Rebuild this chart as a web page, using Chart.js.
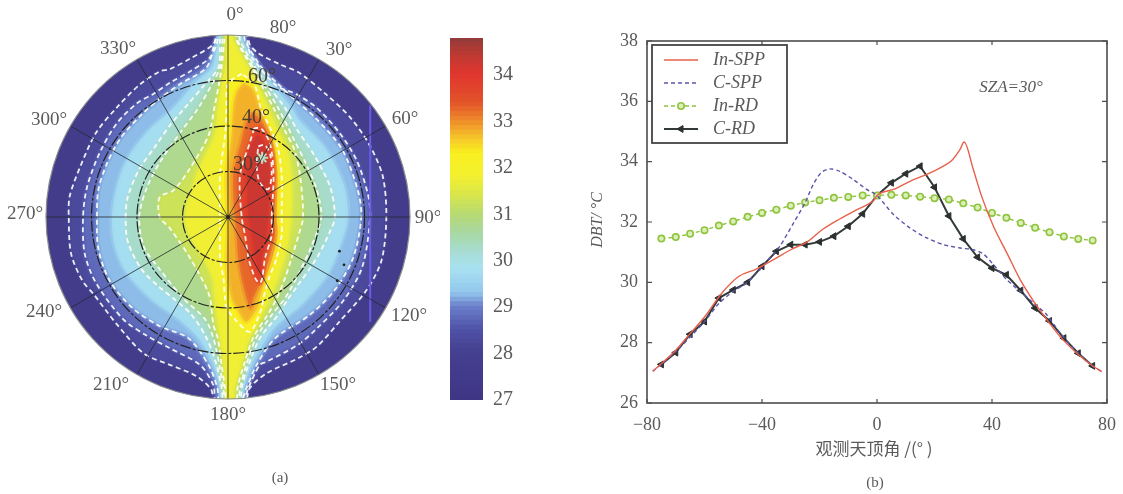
<!DOCTYPE html>
<html>
<head>
<meta charset="utf-8">
<title>DBT</title>
<script src="https://cdn.jsdelivr.net/npm/chart.js@4"></script>
<style>
html, body { margin: 0; padding: 0; background: #fff; overflow: hidden; }
canvas { position: absolute; top: 0; filter: blur(0.5px); }
#polar { left: 0; }
#bar { left: 430px; }
#lines { left: 590px; }
</style>
</head>
<body>
<canvas id="polar" width="440" height="494"></canvas>
<canvas id="bar" width="100" height="494"></canvas>
<canvas id="lines" width="533" height="494"></canvas>
<script>
// --- right panel: values ---
const angles5 = [-75, -70, -65, -60, -55, -50, -45, -40, -35, -30, -25, -20, -15, -10, -5, 0, 5, 10, 15, 20, 25, 30, 35, 40, 45, 50, 55, 60, 65, 70, 75];
const cRdValues = [27.28, 27.67, 28.28, 28.7, 29.48, 29.75, 30.0, 30.53, 31.03, 31.25, 31.25, 31.34, 31.53, 31.86, 32.27, 32.88, 33.3, 33.6, 33.85, 33.15, 32.2, 31.44, 30.83, 30.47, 30.25, 29.73, 29.15, 28.72, 28.15, 27.65, 27.23];
const inRdValues = [31.45, 31.5, 31.61, 31.73, 31.88, 32.02, 32.17, 32.3, 32.41, 32.54, 32.65, 32.72, 32.8, 32.83, 32.88, 32.88, 32.9, 32.88, 32.84, 32.79, 32.75, 32.62, 32.48, 32.3, 32.14, 31.97, 31.81, 31.66, 31.52, 31.44, 31.39];
const inSppAngles = [-78, -70, -65, -60, -54, -48, -42, -36, -30, -24, -19, -13, -7, -1, 0, 5.7, 11.5, 18.5, 23.1, 26, 28.9, 30.3, 33.5, 36.4, 40.5, 45.2, 49.8, 54.5, 59.1, 63.7, 69.5, 75.3, 78.2];
const inSppValues = [27.05, 27.75, 28.3, 28.85, 29.64, 30.2, 30.44, 30.75, 31.08, 31.36, 31.75, 32.1, 32.41, 32.74, 32.88, 33.08, 33.35, 33.63, 33.85, 34.04, 34.41, 34.65, 33.74, 32.85, 31.86, 30.97, 30.09, 29.37, 28.76, 28.2, 27.65, 27.21, 27.04];
const cSppAngles = [-78, -70, -60, -55, -50, -45, -40, -36, -33.8, -29, -25, -22.2, -19.3, -16.4, -12.9, -8.3, -3.6, 0, 5.7, 11.5, 17.3, 23.1, 28.9, 33.5, 37, 41, 45.1, 49.8, 54.5, 59.1, 63.7, 69.5, 75.3, 78.2];
const cSppValues = [27.05, 27.7, 28.7, 29.3, 29.7, 30.0, 30.5, 30.95, 31.19, 31.97, 32.64, 33.24, 33.65, 33.76, 33.68, 33.41, 33.08, 32.88, 32.25, 31.8, 31.47, 31.25, 31.14, 31.08, 30.94, 30.53, 30.09, 29.7, 29.31, 28.92, 28.32, 27.7, 27.21, 27.04];
const yTickValues = [26, 28, 30, 32, 34, 36, 38];
const xTickValues = [-80, -40, 0, 40, 80];

// --- left panel: isotherms, as [x, y] in degrees of zenith angle ---
const contour28 = [[-4.5,82],[-6.4,76],[-16,70],[-25.5,65],[-30,64],[-39,58],[-49,48],[-58,37],[-65,22],[-69.6,9],[-70,0],[-69,-16],[-64,-28],[-59,-34],[-49,-47],[-37,-60],[-25.5,-65],[-13.8,-70],[-7.3,-76],[-6,-82],[7,-82],[9.7,-75],[17,-68.7],[31,-62],[39,-57],[49,-46],[61,-32],[67.5,-19],[69.6,0],[68,18],[62,32],[53.5,44],[43,54],[31,63.6],[23,67],[13.3,72],[9.5,76],[8,82]];
const contour285 = [[-4,82],[-5,76],[-8,70],[-16.7,64],[-25.5,59],[-33,54],[-40,50],[-49,41],[-56.5,28],[-62,13],[-63.7,0],[-63,-16],[-58,-29],[-46,-45],[-36,-52],[-25.5,-57.7],[-12.3,-65],[-6.4,-74],[-5,-82],[6,-82],[9,-75],[14,-65],[17,-63.6],[31,-56],[39,-49],[50.5,-37],[59,-22],[62.5,0],[61.5,10],[56.5,25],[49,37],[39,48],[30,54],[21,58],[11,69.5],[9,74],[7,82]];
const contour29 = [[-4,82],[-5.7,77.5],[-9.4,65.8],[-21,58.5],[-30,52],[-38,45],[-47,35],[-53,24],[-57,12],[-57.6,0],[-57,-14],[-52,-28],[-42,-40],[-30,-48],[-17.4,-53.3],[-8.6,-65],[-4.7,-75],[-3.5,-82],[5,-82],[8.2,-75],[12.6,-65],[20.7,-53.3],[36,-43],[47,-32],[55,-18],[58.6,0],[57,12],[50,30],[38,44],[30,51],[22,58.5],[14.8,65.8],[7.5,77.5],[6.5,82]];
const contour295 = [[-3.5,82],[-4.5,77.5],[-7,65.8],[-15,58.5],[-24,48],[-35,38],[-44,26],[-49,13],[-51,0],[-50,-12],[-45,-24],[-34,-36],[-23,-44],[-13,-53.3],[-6.4,-65],[-3.5,-75],[-2.5,-82],[6,-82],[7,-75],[10.4,-65],[17,-53.3],[21,-48],[33,-38],[44,-25],[50,-11],[52.7,0],[51,14],[43,30],[31,43],[28,48],[19.2,58.5],[13.3,65.8],[6.5,77.5],[5.5,82]];
const contour30 = [[-2.5,82],[-3.5,77.5],[-4.2,65.8],[-10,58.5],[-19,48],[-25,41],[-32,31],[-39,21],[-44,9],[-45,0],[-44,-11],[-38,-23],[-30,-31],[-24,-35.8],[-16,-43],[-9.4,-53.3],[-5,-65],[-2.8,-75],[-1.5,-82],[5,-82],[6,-75],[9,-65],[14,-53.3],[22,-43],[26.5,-35.8],[30,-31],[39,-18],[45,-6],[47,0],[45,13],[38,27],[30,39],[25,48],[17,58.5],[11.9,65.8],[5.3,77.5],[4.5,82]];
const contour305 = [[-1.5,82],[-2.5,77],[-3.5,65.8],[-7,58.5],[-13,48],[-21,37],[-30,24],[-36,12],[-39,0],[-37,-13],[-30,-23],[-19.6,-35.8],[-10,-45],[-6.4,-53.3],[-3.8,-65],[-2,-75],[-1,-82],[4,-82],[5.3,-75],[8,-65],[12.3,-53.3],[20,-42],[25,-35.8],[31,-25],[37,-12],[41,0],[39,12],[34,24],[29,34],[22,48],[15.5,58.5],[11,65.8],[4.5,77],[3.5,82]];
const contour31 = [[-1,82],[-1.6,77.5],[-2.8,65.8],[-4,58.5],[-6,48],[-8.5,36],[-16.7,21.4],[-24,11.7],[-30,8.8],[-30,0],[-25.5,-5],[-16.7,-18],[-8.4,-34],[-6.4,-47.5],[-4.5,-53.3],[-2.8,-65],[-1.3,-75],[-0.5,-82],[3.5,-82],[4.2,-75],[7,-65],[11,-53.3],[18,-42],[21.4,-35.8],[25,-27],[28,-18],[31,-8],[33,0],[31.6,18.5],[29,30],[25,38],[20,48],[14.4,58.5],[10.4,65.8],[3.8,77.5],[3,82]];
const contour315 = [[-0.5,80],[-0.9,77.5],[-1.3,65.8],[-2.8,58.5],[-4.5,48],[-6,36],[-14,18.5],[-19,0],[-17,-8],[-11,-18],[-7,-27],[-6,-35.8],[-5.5,-40],[-3.5,-53.3],[-2,-65],[-0.9,-75],[-0.3,-80],[2.2,-80],[3,-75],[6,-65],[9.7,-53.3],[15.5,-42],[18.5,-35.8],[22,-27],[25,-18],[27,-8],[28,0],[28,18.5],[26,30],[22,38],[17.7,48],[12.9,58.5],[8.9,65.8],[2.6,77.5],[2,80]];
const contour32 = [[6,63],[0,58.5],[-0.6,48],[-1.3,36],[-3.5,18.5],[-3.5,0],[-3.5,-8],[-3.5,-18],[-2,-27],[-1.3,-35.8],[-0.6,-40],[4,-46],[9.7,-50.4],[14.8,-40],[15.5,-35.8],[18,-27],[21.4,-18],[23.6,-8],[23.6,0],[23.6,18.5],[22,30],[19,38],[14.4,48],[11.5,58.5]];
const contour325 = [[7,59],[3.8,55],[2.3,48],[1.6,36],[-0.6,18.5],[0,0],[0,-8],[-0.6,-18],[0,-27],[1.6,-35.8],[3.8,-40],[8,-46],[12.9,-40],[13.8,-35.8],[16.7,-27],[19.6,-18],[21.7,-8],[21.4,0],[21.7,18.5],[20.5,30],[18,38],[14,48],[11,56]];
const contour33 = [[10.5,46],[7.5,40],[5.5,32],[2.3,18.5],[3,0],[3.8,-8],[4.5,-18],[6,-27],[8.2,-35.8],[10,-40],[11,-35.8],[15.2,-27],[18.2,-18],[20.7,-8],[20.2,0],[20.7,18.5],[19,32],[15,42]];
const contour335 = [[11.5,39],[9.7,33],[5.3,18.5],[6,0],[7.5,-8],[9,-18],[12,-27],[14,-29],[15,-27],[16.3,-18],[19.2,-8],[19.2,0],[20,18.5],[18.5,32],[14.5,39]];
const contour34 = [[8.5,28],[8.2,18.5],[9,0],[10.4,-8],[12,-18],[14,-24],[14.8,-18],[17,-8],[17.7,0],[18.5,18.5],[17,30],[13,36]];
const contour343 = [[13.3,31],[16.1,31.7],[18.5,27.6],[19.2,18.8],[17.7,12.2],[14,15.1],[12.6,22.7]];
const isoLevels = [28, 28.5, 29, 29.5, 30, 30.5, 31, 31.5, 32, 32.5, 33, 33.5, 34];
const isoContours = [contour28, contour285, contour29, contour295, contour30, contour305, contour31, contour315, contour32, contour325, contour33, contour335, contour34];
const whiteContours = [contour28, contour285, contour29, contour30, contour305, contour31, contour32, contour335, contour343];
const sunPoint = [{ x: 15, y: 26 }];
const stripePoints = [{ x: 62.5, y: 49 }, { x: 62.5, y: -46 }];
const inkSpots = [{ x: 49, y: -15 }, { x: 51, y: -21 }, { x: 48, y: -28 }];

// --- colour bar ---
const barLevels = [27, 27.1, 27.2, 27.3, 27.4, 27.5, 27.6, 27.7, 27.8, 27.9, 28, 28.1, 28.2, 28.3, 28.4, 28.5, 28.6, 28.7, 28.8, 28.9, 29, 29.1, 29.2, 29.3, 29.4, 29.5, 29.6, 29.7, 29.8, 29.9, 30, 30.1, 30.2, 30.3, 30.4, 30.5, 30.6, 30.7, 30.8, 30.9, 31, 31.1, 31.2, 31.3, 31.4, 31.5, 31.6, 31.7, 31.8, 31.9, 32, 32.1, 32.2, 32.3, 32.4, 32.5, 32.6, 32.7, 32.8, 32.9, 33, 33.1, 33.2, 33.3, 33.4, 33.5, 33.6, 33.7, 33.8, 33.9, 34, 34.1, 34.2, 34.3, 34.4, 34.5, 34.6, 34.7];
const colorStops = [[27, '#3f3585'], [28, '#45408f'], [28.5, '#4f52a8'], [29, '#6c80cc'], [29.3, '#93c8ec'], [29.8, '#a8e0f2'], [30.2, '#a8dcd0'], [30.6, '#a8d8a0'], [31, '#b8da70'], [31.4, '#d8e64a'], [31.8, '#f4f030'], [32.3, '#f9f01f'], [32.6, '#f6c82a'], [33, '#ef8a2a'], [33.4, '#e2522a'], [34, '#e0362e'], [34.5, '#b53a34'], [34.8, '#8b3b3b']];

// --- labels ---
const angleLabels = ['0°', '80°', '30°', '60°', '90°', '120°', '150°', '180°', '210°', '240°', '270°', '300°', '330°'];
const angleLabelPos = [[235, 15], [283, 28], [339, 50], [405, 119], [428, 218], [409, 316], [338, 385], [228, 415], [111, 385], [44, 312], [25, 214], [49, 120], [118, 49]];
const ringLabels = ['30°', '40°', '60°'];
const ringLabelPos = [[247, 165], [256, 118], [262, 77]];
const spokeAngles = [0, 30, 60, 90, 120, 150, 180, 210, 240, 270, 300, 330];
const ringRadii = [20, 40, 60];

const SERIF = '"Liberation Serif", "DejaVu Serif", serif';
const TEXT_COLOR = '#5a5a5a';

function colorAt(value, alpha) {
    let i = 0;
    while (i < colorStops.length - 2 && value > colorStops[i + 1][0]) i++;
    const [v0, c0] = colorStops[i];
    const [v1, c1] = colorStops[i + 1];
    const t = Math.min(1, Math.max(0, (value - v0) / (v1 - v0)));
    const channel = pos => {
        const a = parseInt(c0.substr(pos, 2), 16);
        const b = parseInt(c1.substr(pos, 2), 16);
        return Math.round(a + (b - a) * t);
    };
    return `rgba(${channel(1)},${channel(3)},${channel(5)},${alpha === undefined ? 1 : alpha})`;
}

function toPoints(contour) {
    const pts = contour.map(p => ({ x: p[0], y: p[1] }));
    pts.push({ x: contour[0][0], y: contour[0][1] });
    return pts;
}

function label(ctx, text, x, y, font, color) {
    ctx.font = font;
    ctx.fillStyle = color || TEXT_COLOR;
    ctx.textAlign = 'center';
    ctx.textBaseline = 'middle';
    ctx.fillText(text, x, y);
}

// ---- left: polar map ----
const polarDatasets = [];
polarDatasets.push({ data: sunPoint, showLine: false, pointStyle: 'star', pointRadius: 6, pointBorderWidth: 2, pointBorderColor: '#b9e2c4' });
polarDatasets.push({ data: inkSpots, showLine: false, pointRadius: 1.4, pointBackgroundColor: '#222', pointBorderWidth: 0 });
polarDatasets.push({ data: stripePoints, showLine: true, pointRadius: 0, borderColor: '#6a5ce6', borderWidth: 2 });
whiteContours.forEach(contour => {
    polarDatasets.push({
        data: toPoints(contour), showLine: true, pointRadius: 0, tension: 0.3,
        borderColor: 'rgba(255,255,255,0.9)', borderWidth: 1.8, borderDash: [5, 3.5]
    });
});
// first dataset is painted last, so the warm levels go first
for (let i = isoLevels.length - 1; i >= 0; i--) {
    polarDatasets.push({
        data: toPoints(isoContours[i]), showLine: true, pointRadius: 0, tension: 0.3,
        borderWidth: 5, borderColor: colorAt(isoLevels[i] + 0.1, 0.45),
        fill: 'shape', backgroundColor: colorAt(isoLevels[i] + 0.25)
    });
}

const polarPlugin = {
    id: 'polarPlugin',
    beforeDatasetsDraw(chart) {
        const { ctx, scales } = chart;
        const cx = scales.x.getPixelForValue(0), cy = scales.y.getPixelForValue(0);
        const r = scales.x.getPixelForValue(80) - cx;
        ctx.save();
        ctx.beginPath();
        ctx.arc(cx, cy, r, 0, Math.PI * 2);
        ctx.fillStyle = colorAt(27.6);
        ctx.fill();
        ctx.clip();
    },
    afterDatasetsDraw(chart) {
        const { ctx, scales } = chart;
        ctx.restore();
        const cx = scales.x.getPixelForValue(0), cy = scales.y.getPixelForValue(0);
        const r = scales.x.getPixelForValue(80) - cx;
        ctx.save();
        ctx.strokeStyle = 'rgba(35,40,45,0.8)';
        ctx.lineWidth = 1;
        spokeAngles.forEach(a => {
            const rad = a * Math.PI / 180;
            ctx.beginPath();
            ctx.moveTo(cx, cy);
            ctx.lineTo(cx + r * Math.sin(rad), cy - r * Math.cos(rad));
            ctx.stroke();
        });
        ctx.strokeStyle = '#222';
        ctx.lineWidth = 1.2;
        ctx.setLineDash([11, 2, 3, 2]);
        ringRadii.forEach(v => {
            ctx.beginPath();
            ctx.arc(cx, cy, scales.x.getPixelForValue(v) - cx, 0, Math.PI * 2);
            ctx.stroke();
        });
        ctx.setLineDash([]);
        ctx.strokeStyle = '#8a8f8a';
        ctx.lineWidth = 1.2;
        ctx.beginPath();
        ctx.arc(cx, cy, r, 0, Math.PI * 2);
        ctx.stroke();
        ctx.fillStyle = '#222';
        ctx.beginPath();
        ctx.arc(cx, cy, 2, 0, Math.PI * 2);
        ctx.fill();
        angleLabels.forEach((t, i) => label(ctx, t, angleLabelPos[i][0], angleLabelPos[i][1], `19px ${SERIF}`));
        ringLabels.forEach((t, i) => label(ctx, t, ringLabelPos[i][0], ringLabelPos[i][1], `20px ${SERIF}`, '#4a3f30'));
        label(ctx, '(a)', 280, 478, `15px ${SERIF}`);
        ctx.restore();
    }
};

new Chart(document.getElementById('polar').getContext('2d'), {
    type: 'scatter',
    data: { datasets: polarDatasets },
    options: {
        responsive: false,
        animation: false,
        layout: { padding: { left: 46, right: 30, top: 35, bottom: 95 } },
        scales: {
            x: { display: false, min: -80, max: 80 },
            y: { display: false, min: -80, max: 80 }
        },
        plugins: { legend: { display: false }, tooltip: { enabled: false } }
    },
    plugins: [polarPlugin]
});

// ---- middle: colour bar ----
new Chart(document.getElementById('bar').getContext('2d'), {
    type: 'bar',
    data: {
        labels: ['DBT'],
        datasets: barLevels.map(v => ({
            data: [[v, v + 0.12]],
            backgroundColor: colorAt(v + 0.05),
            grouped: false,
            barPercentage: 1,
            categoryPercentage: 1
        }))
    },
    options: {
        responsive: false,
        animation: false,
        layout: { padding: { left: 20, right: 0, top: 38, bottom: 94 } },
        scales: {
            x: { display: false },
            y: {
                position: 'right',
                min: 27,
                max: 34.8,
                afterBuildTicks: axis => { axis.ticks = [27, 28, 29, 30, 31, 32, 33, 34].map(v => ({ value: v })); },
                afterFit: axis => { axis.width = 47; },
                grid: { display: false },
                border: { display: false },
                ticks: { color: TEXT_COLOR, padding: 2, font: { family: SERIF, size: 20 } }
            }
        },
        plugins: { legend: { display: false }, tooltip: { enabled: false } }
    }
});

// ---- right: profiles ----
const linesPlugin = {
    id: 'linesPlugin',
    afterDraw(chart) {
        const { ctx, chartArea: a, scales } = chart;
        ctx.save();
        ctx.strokeStyle = '#4d4d4d';
        ctx.lineWidth = 1.6;
        ctx.strokeRect(a.left, a.top, a.right - a.left, a.bottom - a.top);
        // ticks point inwards
        ctx.lineWidth = 1.2;
        xTickValues.forEach(v => {
            const x = scales.x.getPixelForValue(v);
            ctx.beginPath();
            ctx.moveTo(x, a.bottom); ctx.lineTo(x, a.bottom - 4);
            ctx.moveTo(x, a.top); ctx.lineTo(x, a.top + 4);
            ctx.stroke();
        });
        yTickValues.forEach(v => {
            const y = scales.y.getPixelForValue(v);
            ctx.beginPath();
            ctx.moveTo(a.left, y); ctx.lineTo(a.left + 5, y);
            ctx.moveTo(a.right, y); ctx.lineTo(a.right - 5, y);
            ctx.stroke();
        });

        // legend box
        const boxX = 62, boxY = 45, boxW = 135, boxH = 98;
        ctx.fillStyle = '#fff';
        ctx.fillRect(boxX, boxY, boxW, boxH);
        ctx.strokeStyle = '#444';
        ctx.lineWidth = 1.8;
        ctx.strokeRect(boxX, boxY, boxW, boxH);
        chart.data.datasets.forEach((ds, i) => {
            const y = boxY + 15 + i * 23;
            ctx.save();
            ctx.strokeStyle = ds.borderColor;
            ctx.lineWidth = ds.borderWidth;
            ctx.setLineDash(ds.borderDash || []);
            ctx.beginPath();
            ctx.moveTo(boxX + 12, y);
            ctx.lineTo(boxX + 46, y);
            ctx.stroke();
            ctx.setLineDash([]);
            if (ds.pointRadius) {
                ctx.fillStyle = ds.pointBackgroundColor;
                ctx.strokeStyle = ds.pointBorderColor;
                ctx.lineWidth = ds.pointBorderWidth;
                Chart.helpers.drawPoint(ctx, { pointStyle: ds.pointStyle, radius: ds.pointRadius, rotation: ds.pointRotation || 0, borderWidth: ds.pointBorderWidth }, boxX + 29, y);
            }
            ctx.restore();
            ctx.font = `italic 18px ${SERIF}`;
            ctx.fillStyle = TEXT_COLOR;
            ctx.textAlign = 'left';
            ctx.textBaseline = 'middle';
            ctx.fillText(ds.label, boxX + 61, y);
        });

        label(ctx, 'SZA=30°', 421, 88, `italic 17px ${SERIF}`);
        ctx.save();
        ctx.translate(8, 220);
        ctx.rotate(-Math.PI / 2);
        label(ctx, 'DBT/ °C', 0, 0, `italic 16px ${SERIF}`);
        ctx.restore();
        label(ctx, '观测天顶角 /(° )', 284, 449, '17px "Noto Sans CJK SC"');
        label(ctx, '(b)', 285, 483, `15px ${SERIF}`);
        ctx.restore();
    }
};

function pairs(xs, ys) {
    return xs.map((x, i) => ({ x: x, y: ys[i] }));
}

new Chart(document.getElementById('lines').getContext('2d'), {
    type: 'scatter',
    data: {
        datasets: [
            { label: 'In-SPP', data: pairs(inSppAngles, inSppValues), showLine: true, borderColor: '#e8604a', borderWidth: 1.4, pointRadius: 0, cubicInterpolationMode: 'monotone' },
            { label: 'C-SPP', data: pairs(cSppAngles, cSppValues), showLine: true, borderColor: '#5a55a8', borderWidth: 1.4, borderDash: [4, 3], pointRadius: 0, tension: 0.25 },
            { label: 'In-RD', data: pairs(angles5, inRdValues), showLine: true, borderColor: '#8fc43f', borderWidth: 1.4, borderDash: [4, 3], pointStyle: 'circle', pointRadius: 3.2, pointBackgroundColor: '#dcefb8', pointBorderColor: '#8fc43f', pointBorderWidth: 1.6 },
            { label: 'C-RD', data: pairs(angles5, cRdValues), showLine: true, borderColor: '#333a3a', borderWidth: 2, pointStyle: 'triangle', pointRotation: -90, pointRadius: 4, pointBackgroundColor: '#2c3030', pointBorderColor: '#2c3030', pointBorderWidth: 1 }
        ]
    },
    options: {
        responsive: false,
        animation: false,
        layout: { padding: { left: 27, right: 16, top: 41, bottom: 51 } },
        scales: {
            x: {
                type: 'linear', min: -80, max: 80,
                afterBuildTicks: axis => { axis.ticks = xTickValues.map(v => ({ value: v })); },
                afterFit: axis => { axis.height = 40; },
                grid: { display: false },
                border: { display: false },
                ticks: { color: TEXT_COLOR, padding: 3, maxRotation: 0, font: { family: SERIF, size: 18 }, callback: v => String(v).replace('-', '−') }
            },
            y: {
                min: 26, max: 38,
                afterBuildTicks: axis => { axis.ticks = yTickValues.map(v => ({ value: v })); },
                afterFit: axis => { axis.width = 30; },
                grid: { display: false },
                border: { display: false },
                ticks: { color: TEXT_COLOR, padding: 1, font: { family: SERIF, size: 18 } }
            }
        },
        plugins: { legend: { display: false }, tooltip: { enabled: false } }
    },
    plugins: [linesPlugin]
});
</script>
</body>
</html>
